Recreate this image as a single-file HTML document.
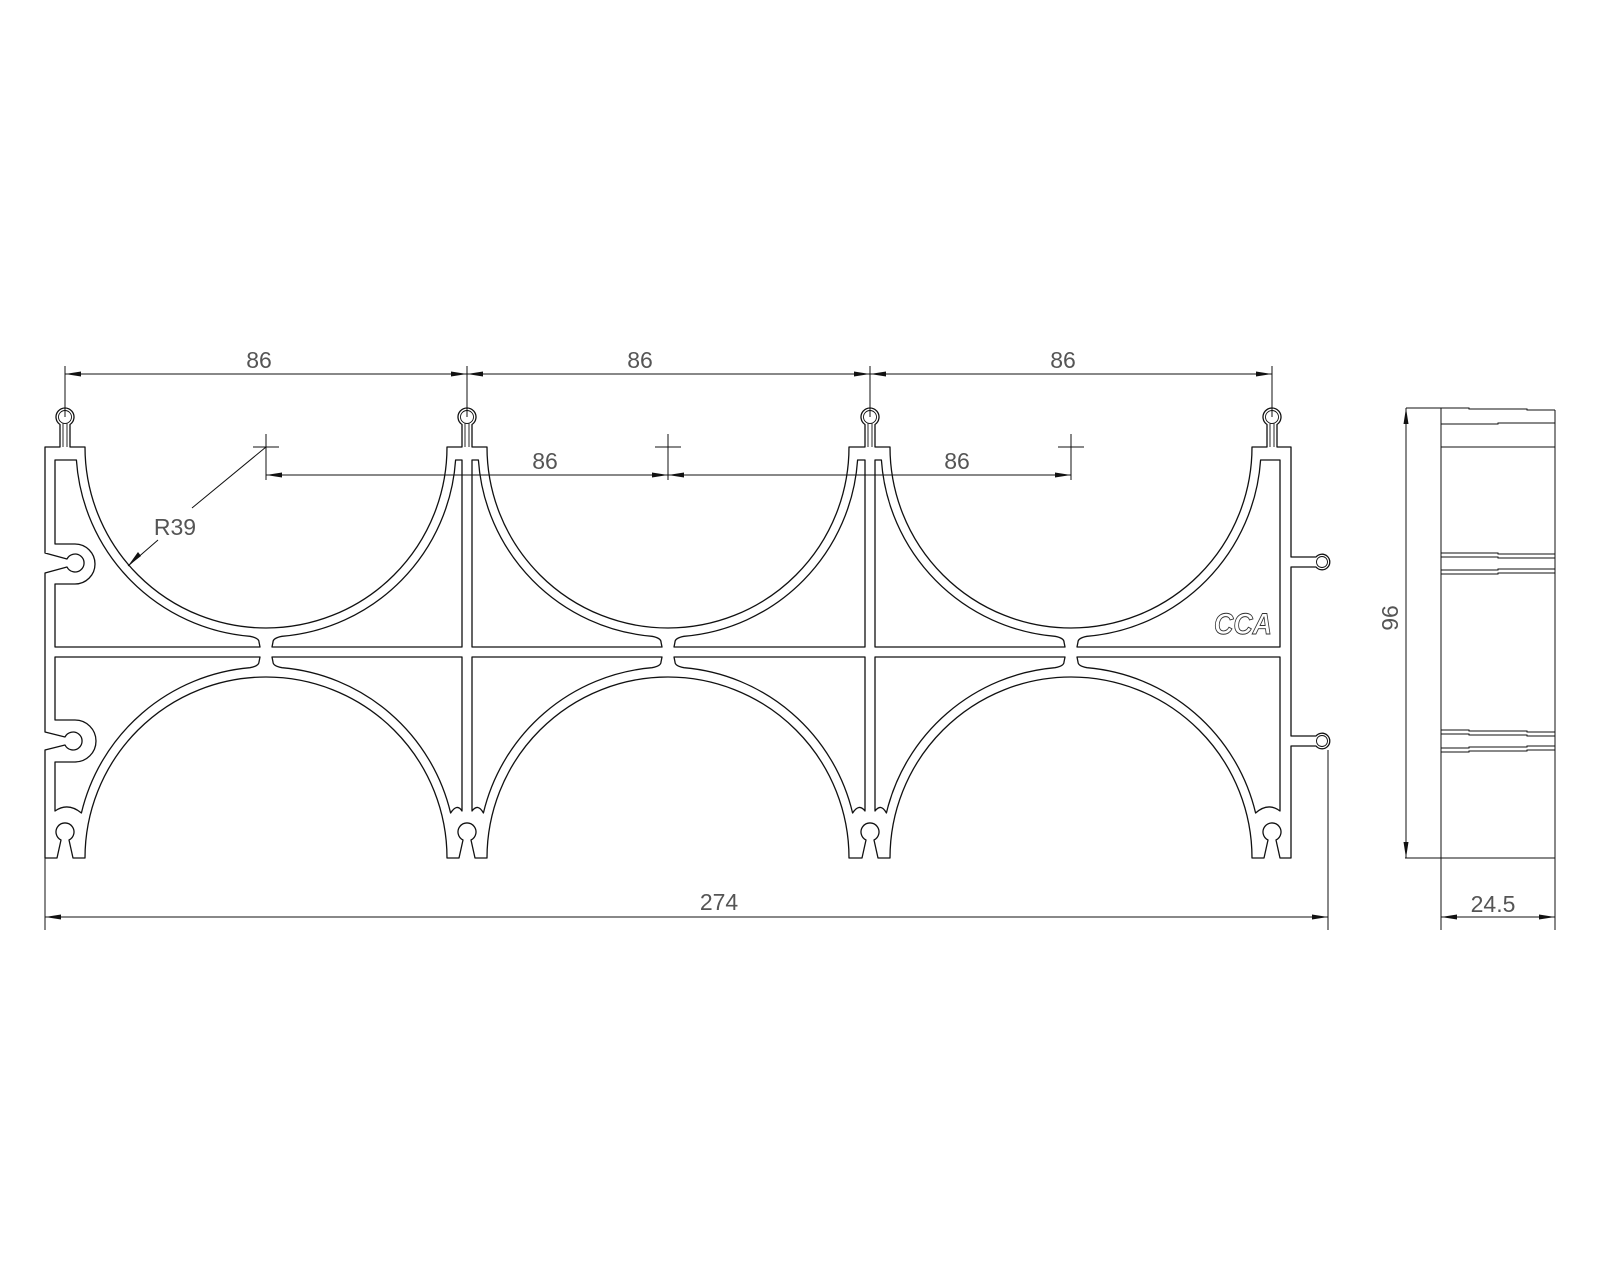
<!DOCTYPE html>
<html><head><meta charset="utf-8"><style>
html,body{margin:0;padding:0;background:#fff;}
svg{display:block;}
text{font-family:"Liberation Sans",sans-serif;fill:#555;}
</style></head><body>
<svg width="1600" height="1280" viewBox="0 0 1600 1280" xmlns="http://www.w3.org/2000/svg">
<g fill="none" stroke="#111" stroke-width="1.3" stroke-linejoin="round">
<!-- outer contour -->
<path d="M45,858 L45,750 L65,745 A9 9 0 1 0 65,737 L45,732 L45,573 L67,567 A9 9 0 1 0 67,559 L45,553 L45,447 L60,447 L60,424.5 A9 9 0 1 1 70,424.5 L70,447 L85,447 A181 181 0 0 0 447,447 L462,447 L462,424.5 A9 9 0 1 1 472,424.5 L472,447 L487,447 A181 181 0 0 0 849,447 L865,447 L865,424.5 A9 9 0 1 1 875,424.5 L875,447 L890,447 A181 181 0 0 0 1252,447 L1267,447 L1267,424.5 A9 9 0 1 1 1277,424.5 L1277,447 L1291,447 L1291,557 L1316,557 A7.8 7.8 0 1 1 1316,567 L1291,567 L1291,736 L1316,736 A7.8 7.8 0 1 1 1316,746 L1291,746 L1291,858 L1280,858 L1276,840 A9 9 0 1 0 1268,840 L1264,858 L1252,858 A181 181 0 0 0 890,858 L878,858 L874,840 A9 9 0 1 0 866,840 L862,858 L849,858 A181 181 0 0 0 487,858 L475,858 L471,840 A9 9 0 1 0 463,840 L459,858 L447,858 A181 181 0 0 0 85,858 L73,858 L69,840 A9 9 0 1 0 61,840 L57,858 Z"/>
<!-- inner slot lines on top posts -->
<g stroke-width="0.9">
<circle cx="65" cy="417" r="6.5"/><circle cx="467" cy="417" r="6.5"/><circle cx="870" cy="417" r="6.5"/><circle cx="1272" cy="417" r="6.5"/>
<path d="M63,423 V447 M67,423 V447 M465,423 V447 M469,423 V447 M868,423 V447 M872,423 V447 M1270,423 V447 M1274,423 V447"/>
<circle cx="1322" cy="562" r="5.5"/><circle cx="1322" cy="741" r="5.5"/>
</g>
<!-- upper cells -->
<path d="M55,460 L76.4,460 A190 190 0 0 0 250,636.3 Q259,638 259,642 L260,647 L55,647 L55,584 L75,584 A20 20 0 0 0 75,544 L55,544 Z"/>
<path d="M272,647 L273,642 Q273,638 282,636.3 A190 190 0 0 0 455.6,460 L462,460 L462,647 Z"/>
<path d="M472,460 L478.4,460 A190 190 0 0 0 652,636.3 Q661,638 661,642 L662,647 L472,647 Z"/>
<path d="M674,647 L675,642 Q675,638 684,636.3 A190 190 0 0 0 857.6,460 L865,460 L865,647 Z"/>
<path d="M875,460 L881.4,460 A190 190 0 0 0 1055,636.3 Q1064,638 1064,642 L1065,647 L875,647 Z"/>
<path d="M1077,647 L1078,642 Q1078,638 1087,636.3 A190 190 0 0 0 1260.6,460 L1280,460 L1280,647 Z"/>
<!-- lower cells -->
<path d="M55,657 L260,657 L259,662 Q259,666 250,667.7 A190 190 0 0 0 81.4,813 Q68,802 55,811 L55,762 L75,762 A21 21 0 0 0 75,720 L55,720 Z"/>
<path d="M272,657 L462,657 L462,811 Q457,803 450.6,813 A190 190 0 0 0 282,667.7 Q273,666 273,662 Z"/>
<path d="M472,657 L662,657 L661,662 Q661,666 652,667.7 A190 190 0 0 0 483.4,813 Q478,803 472,811 Z"/>
<path d="M674,657 L865,657 L865,811 Q859,803 852.6,813 A190 190 0 0 0 684,667.7 Q675,666 675,662 Z"/>
<path d="M875,657 L1065,657 L1064,662 Q1064,666 1055,667.7 A190 190 0 0 0 886.4,813 Q881,803 875,811 Z"/>
<path d="M1077,657 L1280,657 L1280,811 Q1268,802 1255.6,813 A190 190 0 0 0 1087,667.7 Q1078,666 1078,662 Z"/>
</g>
<!-- logo -->
<text x="1214" y="634" font-size="30" font-style="italic" font-weight="bold" style="fill:none;stroke:#333;stroke-width:0.9" textLength="58" lengthAdjust="spacingAndGlyphs">CCA</text>
<!-- dimensions -->
<g fill="none" stroke="#111" stroke-width="1">
<path d="M65,366 V417 M467,366 V417 M870,366 V417 M1272,366 V417"/>
<path d="M65,374 H1272"/>
<path d="M253,447 H279 M266,434 V480 M655,447 H681 M668,434 V480 M1058,447 H1084 M1071,434 V480"/>
<path d="M266,475 H1071"/>
<path d="M266,447 L192,508 M158,540 L128,566"/>
<path d="M45,858 V930 M1328,750 V930 M45,917 H1328"/>
<path d="M1406,408 V858 M1406,408 H1469 L1469,409 H1527 L1527,410 H1555 M1405,858 H1555"/>
<path d="M1441,408 V930 M1555,410 V930 M1441,917 H1555"/>
<path d="M1441,424 H1498 L1498,423 H1555 M1441,447 H1555"/>
<path d="M1441,553 H1498 L1498,554 H1555 M1441,557 H1498 L1498,558 H1555 M1441,570 H1498 L1498,569 H1555 M1441,574 H1498 L1498,573 H1555"/>
<path d="M1441,730 H1469 L1469,731 H1527 L1527,732 H1555 M1441,734 H1469 L1469,735 H1527 L1527,736 H1555 M1441,748 H1469 L1469,747 H1527 L1527,746 H1555 M1441,752 H1469 L1469,751 H1527 L1527,750 H1555"/>
</g>
<g fill="#111">
<!-- top row arrows -->
<polygon points="65,374 81,371.5 81,376.5"/>
<polygon points="467,374 451,371.5 451,376.5"/><polygon points="467,374 483,371.5 483,376.5"/>
<polygon points="870,374 854,371.5 854,376.5"/><polygon points="870,374 886,371.5 886,376.5"/>
<polygon points="1272,374 1256,371.5 1256,376.5"/>
<!-- second row -->
<polygon points="266,475 282,472.5 282,477.5"/>
<polygon points="668,475 652,472.5 652,477.5"/><polygon points="668,475 684,472.5 684,477.5"/>
<polygon points="1071,475 1055,472.5 1055,477.5"/>
<!-- R39 -->
<polygon points="128,566 138,552 141,556"/>
<!-- 274 -->
<polygon points="45,917 61,914.5 61,919.5"/><polygon points="1328,917 1312,914.5 1312,919.5"/>
<!-- 96 -->
<polygon points="1406,408 1403.5,424 1408.5,424"/><polygon points="1406,858 1403.5,842 1408.5,842"/>
<!-- 24.5 -->
<polygon points="1441,917 1457,914.5 1457,919.5"/><polygon points="1555,917 1539,914.5 1539,919.5"/>
</g>
<g font-size="23" text-anchor="middle">
<text x="259" y="368">86</text>
<text x="640" y="368">86</text>
<text x="1063" y="368">86</text>
<text x="545" y="469">86</text>
<text x="957" y="469">86</text>
<text x="175" y="535">R39</text>
<text x="719" y="910">274</text>
<text x="1493" y="912">24.5</text>
<text x="0" y="0" transform="translate(1398,618) rotate(-90)">96</text>
</g>
</svg>
</body></html>
